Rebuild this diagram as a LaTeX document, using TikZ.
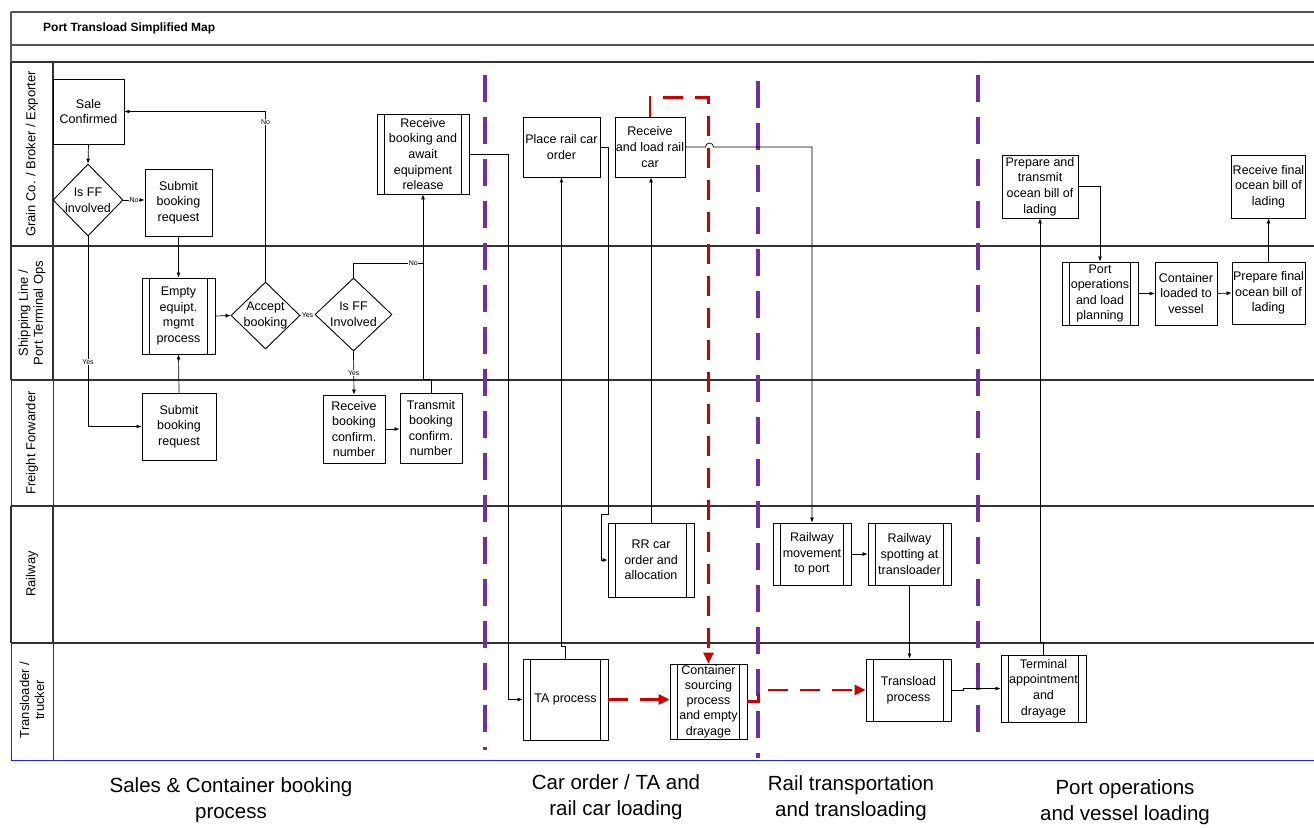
\documentclass[tikz,border=0pt]{standalone}
\usepackage{fontspec}
\setmainfont{Liberation Sans}
\usetikzlibrary{shapes.geometric,arrows.meta,calc}

\definecolor{lanegrey}{HTML}{333333}
\definecolor{framegrey}{HTML}{555555}
\definecolor{laneblue}{HTML}{2020E8}
\definecolor{phasepurple}{HTML}{7030A0}
\definecolor{flowred}{HTML}{CC0000}

\begin{document}
\begin{tikzpicture}[x=1pt,y=-1pt,
  box/.style={draw=black, line width=0.9pt, fill=white, align=center, inner sep=1pt,
              font=\fontsize{12.5}{15.6}\selectfont},
  wh/.style 2 args={minimum width=#1pt, minimum height=#2pt},
  sub/.style={box, path picture={
      \draw[line width=0.9pt]
        ([xshift=7.5pt]path picture bounding box.north west) -- ([xshift=7.5pt]path picture bounding box.south west)
        ([xshift=-7.5pt]path picture bounding box.north east) -- ([xshift=-7.5pt]path picture bounding box.south east);}},
  dec/.style={draw=black, line width=0.9pt, fill=white, shape=diamond, inner sep=0pt},
  dectext/.style={align=center, inner sep=0pt, font=\fontsize{12.5}{15.6}\selectfont},
  flow/.style={draw=black, line width=0.7pt, -{Latex[length=5pt,width=4pt]}},
  plain/.style={draw=black, line width=0.7pt},
  yn/.style={font=\fontsize{7}{8}\selectfont, fill=white, inner sep=0.6pt},
  redflow/.style={draw=flowred, line width=2.8pt, dash pattern=on 20pt off 12pt,
                  -{Triangle[length=11pt,width=10pt]}},
  phase/.style={draw=phasepurple, line width=3.5pt, dash pattern=on 27pt off 15pt},
  lanesep/.style={draw=lanegrey, line width=1.2pt},
  framesep/.style={draw=framegrey, line width=1.2pt},
  blueline/.style={draw=laneblue, line width=1pt},
  lanelabel/.style={rotate=90, align=center, font=\fontsize{13}{15}\selectfont},
  phaselabel/.style={align=center, font=\fontsize{20.5}{26}\selectfont}
]

% page
\fill[white] (0,0) rectangle (1314,827);
\useasboundingbox (0,0) rectangle (1314,827);

% title rows
\draw[framesep] (11,12) -- (1314,12);
\draw[framesep] (11,45) -- (1314,45);
\draw[lanesep] (11,62) -- (1314,62);
\draw[framesep] (11,12) -- (11,62);
\node[anchor=west, inner sep=0pt, font=\bfseries\fontsize{12}{14}\selectfont] (title) at (43,28.5) {Port Transload Simplified Map};

% swimlanes
\draw[lanesep] (11,246) -- (1314,246);
\draw[lanesep] (11,380) -- (1314,380);
\draw[lanesep] (11,506) -- (1314,506);
\draw[lanesep] (11,643) -- (1314,643);
\draw[lanesep] (11,62) -- (11,380) (11,506) -- (11,643);
\draw[lanesep] (53,62) -- (53,380) (53,506) -- (53,643);
\draw[blueline] (11,380) -- (11,506) (53,380) -- (53,506);
\draw[blueline] (11,643) -- (11,760) (53,643) -- (53,760);
\draw[blueline] (11,760) -- (1314,760);

\node[lanelabel] (lgrain) at (32,154) {Grain Co. / Broker / Exporter};
\node[lanelabel] (lship) at (32,313) {Shipping Line /\\Port Terminal Ops};
\node[lanelabel] (lff) at (32,443) {Freight Forwarder};
\node[lanelabel] (lrail) at (32,574) {Railway};
\node[lanelabel] (ltrans) at (32,700) {Transloader /\\trucker};

% phase dividers
\draw[phase] (485,75) -- (485,750);
\draw[phase] (758,81) -- (758,758);
\draw[phase] (978,75) -- (978,732);

% Grain Co. / Broker / Exporter lane
\node[box, wh={71}{65}] (sale) at (88.5,111.5) {Sale\\Confirmed};
\node[dec, wh={70}{72}, label={[dectext]center:Is FF\\involved}] (d1) at (88,200) {};
\node[box, wh={67}{67}] (subA) at (178.5,202.5) {Submit\\booking\\request};
\node[sub, wh={92}{80}] (await) at (423,154) {Receive\\booking and\\await\\equipment\\release};
\node[box, wh={77}{60}] (place) at (561.5,147) {Place rail car\\order};
\node[box, wh={68}{60}] (load) at (650,147) {Receive\\and load rail\\car};
\node[box, wh={76}{63}] (prep) at (1040,186.5) {Prepare and\\transmit\\ocean bill of\\lading};
\node[box, wh={73}{63}] (rfin) at (1268.5,186.5) {Receive final\\ocean bill of\\lading};

% Shipping Line / Port Terminal Ops lane
\node[sub, wh={73}{76}] (eq) at (178.5,316) {Empty\\equipt.\\mgmt\\process};
\node[dec, wh={69}{67}, label={[dectext]center:Accept\\booking}] (acc) at (265.5,315.5) {};
\node[dec, wh={77}{73}, label={[dectext]center:Is FF\\Involved}] (ff) at (353.5,314.5) {};
\node[sub, wh={76}{63}] (port) at (1100,293.5) {Port\\operations\\and load\\planning};
\node[box, wh={62}{63}] (cont) at (1186,293.5) {Container\\loaded to\\vessel};
\node[box, wh={73}{62}] (pfin) at (1268.5,293) {Prepare final\\ocean bill of\\lading};

% Freight Forwarder lane
\node[box, wh={74}{67}] (subB) at (179,426.5) {Submit\\booking\\request};
\node[box, wh={62}{68}] (rcf) at (354,429) {Receive\\booking\\confirm.\\number};
\node[box, wh={62}{70}] (tbc) at (431,428) {Transmit\\booking\\confirm.\\number};

% Railway lane
\node[sub, wh={86}{74}] (rr) at (651,560) {RR car\\order and\\allocation};
\node[sub, wh={78}{62}] (rwm) at (812,554) {Railway\\movement\\to port};
\node[sub, wh={83}{62}] (rws) at (909.5,554) {Railway\\spotting at\\transloader};

% Transloader / trucker lane
\node[sub, wh={85}{81}] (ta) at (565.5,699.5) {TA process};
\node[sub, wh={77}{75}, font=\fontsize{12.5}{15.2}\selectfont] (cs) at (708.5,701.5) {Container\\sourcing\\process\\and empty\\drayage};
\node[sub, wh={85}{62}] (tl) at (908.5,690) {Transload\\process};
\node[sub, wh={85}{67}] (term) at (1043.5,688.5) {Terminal\\appointment\\and\\drayage};

% booking flow
\draw[flow] (sale.south) -- (d1.north);
\draw[flow] (d1.east) -- node[yn] {No} (d1.east -| subA.west);
\draw[flow] (d1.south) |- node[yn, pos=0.33] {Yes} (subB.west);
\draw[flow] (subA.south) -- (eq.north);
\draw[flow] (subB.north) -- (eq.south);
\draw[flow] (eq.east) -- (acc.west);
\draw[flow] (acc.north) |- node[yn, pos=0.47] {No} (sale.east);
\draw[flow] (acc.east) -- node[yn] {Yes} (ff.west);
\draw[flow] (ff.south) -- node[yn] {Yes} (rcf.north);
\path (await.south) ++(0,69) coordinate (noJoin);
\draw[plain] (ff.north) |- node[yn, pos=0.93] {No} (noJoin);
\draw[flow] (rcf.east) -- (rcf.east -| tbc.west);
\draw[flow] (tbc.north) -- ++(0,-13) -| (await.south);
\draw[flow] (await.east) -- ++(39,0) |- (ta.west);

% car order / rail car loading
\draw[flow] (ta.north) -- ++(0,-12) -| (place.south);
\coordinate (rrjog) at ($(rr.north west)+(-6,-8)$);
\draw[flow] (place.east) -| ($(rr.north west)+(1,-8)$) -- (rrjog) |- (rr.west);
\draw[flow] (rr.north) -- (rr.north |- load.south);
\draw[flow] (load.east) -- ++(20,0) arc[start angle=180, end angle=360, radius=4] -| (rwm.north);

% rail transportation and transloading
\draw[flow] (rwm.east) -- (rws.west);
\draw[flow] (rws.south) -- (rws.south |- tl.north);
\draw[flow] (tl.east) -- ++(12,0) |- (term.west);

% port operations
\draw[flow] (term.north) -- ++(0,-12) -| (prep.south);
\draw[flow] (prep.east) -| (port.north);
\draw[flow] (port.east) -- (cont.west);
\draw[flow] (cont.east) -- (pfin.west);
\draw[flow] (pfin.north) -- (rfin.south);

% container flow
\draw[redflow] (load.north) -- ++(0,-19) -| (cs.north);
\draw[redflow] (ta.east) -- (ta.east -| cs.west);
\draw[redflow] (cs.east) -- ++(11,0) |- (tl.west);

% phase captions
\node[phaselabel] (ph1) at (231,800) {Sales \& Container booking\\process};
\node[phaselabel] (ph2) at (616,797) {Car order / TA and\\rail car loading};
\node[phaselabel] (ph3) at (851,798) {Rail transportation\\and transloading};
\node[phaselabel] (ph4) at (1125,802) {Port operations\\and vessel loading};
\end{tikzpicture}
\end{document}
